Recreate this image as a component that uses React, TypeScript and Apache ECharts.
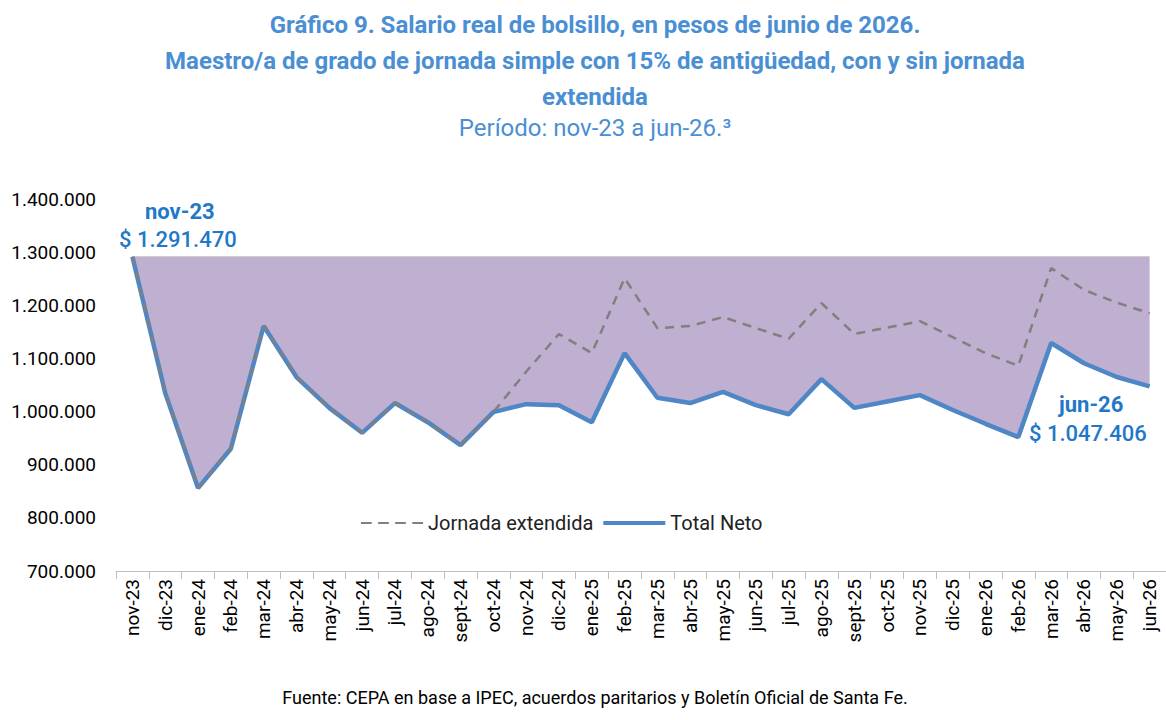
import { useEffect, useRef } from 'react'
import * as echarts from 'echarts'

const categories = ['nov-23', 'dic-23', 'ene-24', 'feb-24', 'mar-24', 'abr-24', 'may-24', 'jun-24', 'jul-24', 'ago-24', 'sept-24', 'oct-24', 'nov-24', 'dic-24', 'ene-25', 'feb-25', 'mar-25', 'abr-25', 'may-25', 'jun-25', 'jul-25', 'ago-25', 'sept-25', 'oct-25', 'nov-25', 'dic-25', 'ene-26', 'feb-26', 'mar-26', 'abr-26', 'may-26', 'jun-26']

const totalNeto = [1291470, 1035000, 856000, 930000, 1161000, 1065000, 1007000, 960000, 1016000, 980000, 937000, 999000, 1014000, 1012000, 980000, 1110000, 1026000, 1016000, 1037000, 1012000, 995000, 1061000, 1007000, 1019000, 1031000, 1003000, 977000, 952000, 1129000, 1091000, 1065000, 1047406]

const jornadaExtendida = [1291470, 1035000, 856000, 930000, 1161000, 1065000, 1007000, 960000, 1016000, 980000, 937000, 999000, 1075000, 1146000, 1110000, 1251000, 1157000, 1161000, 1178000, 1157000, 1137000, 1204000, 1146000, 1158000, 1170000, 1140000, 1110000, 1086000, 1270000, 1229000, 1205000, 1185000]

const baseValue = 1291470

const blue = '#4f86c6'
const titleBlue = '#4a8fd4'

function fmt(v: number) {
  return v.toString().replace(/\B(?=(\d{3})+(?!\d))/g, '.')
}

export default function App() {
  const ref = useRef<HTMLDivElement>(null)

  useEffect(() => {
    if (!ref.current) return
    const chart = echarts.init(ref.current, null, { renderer: 'svg' })
    const font = 'Roboto'

    chart.setOption({
      animation: false,
      textStyle: { fontFamily: font },
      title: [
        {
          text: 'Gráfico 9. Salario real de bolsillo, en pesos de junio de 2026.\nMaestro/a de grado de jornada simple con 15% de antigüedad, con y sin jornada\nextendida',
          left: 590, top: 2, textAlign: 'center',
          textStyle: { fontSize: 24, fontWeight: 'bold', color: titleBlue, lineHeight: 36, fontFamily: font }
        },
        {
          text: 'Período: nov-23 a jun-26.³',
          left: 590, top: 111, textAlign: 'center',
          textStyle: { fontSize: 24, fontWeight: 'normal', color: titleBlue, fontFamily: font }
        },
        {
          text: 'Fuente: CEPA en base a IPEC, acuerdos paritarios y Boletín Oficial de Santa Fe.',
          left: 590, top: 683, textAlign: 'center',
          textStyle: { fontSize: 18, fontWeight: 'normal', color: '#000', fontFamily: font }
        }
      ],
      legend: {
        top: 508, left: 356, itemGap: 10, itemWidth: 62, itemHeight: 4,
        textStyle: { fontSize: 20, color: '#222', fontFamily: font },
        data: [
          { name: 'Jornada extendida', icon: 'path://M0,0H10V2H0Z M16,0H26V2H16Z M32,0H42V2H32Z M48,0H58V2H48Z', itemStyle: { color: '#808080' } },
          { name: 'Total Neto', icon: 'rect', itemStyle: { color: blue } }
        ]
      },
      grid: { left: 116, right: 0, top: 199, bottom: 149 },
      xAxis: {
        type: 'category', data: categories, boundaryGap: true,
        axisLine: { lineStyle: { color: '#bfbfbf' } },
        axisTick: { show: true, length: 8, lineStyle: { color: '#bfbfbf' } },
        axisLabel: { rotate: 90, fontSize: 19, color: '#000', interval: 0, margin: 8 }
      },
      yAxis: {
        type: 'value', min: 700000, max: 1400000, interval: 100000,
        splitLine: { show: false },
        axisLine: { show: false },
        axisTick: { show: false },
        axisLabel: { fontSize: 19, color: '#000', margin: 20, formatter: (v: number) => fmt(v) }
      },
      series: [
        {
          name: 'base', type: 'line', stack: 'area', data: totalNeto,
          symbol: 'none', lineStyle: { width: 0 }, silent: true
        },
        {
          name: 'gap', type: 'line', stack: 'area', data: totalNeto.map(v => baseValue - v),
          symbol: 'none', lineStyle: { width: 1, color: '#c8c8c8' },
          areaStyle: { color: '#bfafd0', opacity: 1 }, silent: true
        },
        {
          name: 'Total Neto', type: 'line', data: totalNeto, symbol: 'none',
          lineStyle: { width: 4.5, color: blue }, itemStyle: { color: blue }
        },
        {
          name: 'Jornada extendida', type: 'line', data: jornadaExtendida, symbol: 'none',
          lineStyle: { width: 2.5, color: '#808080', type: [9, 7] }, itemStyle: { color: '#808080' }
        }
      ],
      graphic: [
        { type: 'text', left: 145, top: 200, style: { text: 'nov-23', fontSize: 22, fontWeight: 'bold', fill: '#1f78c8', fontFamily: font } },
        { type: 'text', left: 119, top: 228, style: { text: '$ 1.291.470', fontSize: 22, fontWeight: 500, fill: '#1f78c8', fontFamily: font } },
        { type: 'text', left: 173, top: 280, style: { text: 'Pérdida de ingresos desde nov-23:', fontSize: 24, fill: '#c00000', fontFamily: font } },
        { type: 'text', left: 308, top: 310, style: { text: '$ 8.529.899', fontSize: 24, fill: '#c00000', fontFamily: font } },
        { type: 'text', left: 1059, top: 393, style: { text: 'jun-26', fontSize: 22, fontWeight: 'bold', fill: '#1f78c8', fontFamily: font } },
        { type: 'text', left: 1029, top: 422, style: { text: '$ 1.047.406', fontSize: 22, fontWeight: 500, fill: '#1f78c8', fontFamily: font } }
      ]
    })

    return () => chart.dispose()
  }, [])

  return <div ref={ref} style={{ position: 'absolute', left: 0, top: 0, width: 1166, height: 720, background: '#fff' }} />
}
